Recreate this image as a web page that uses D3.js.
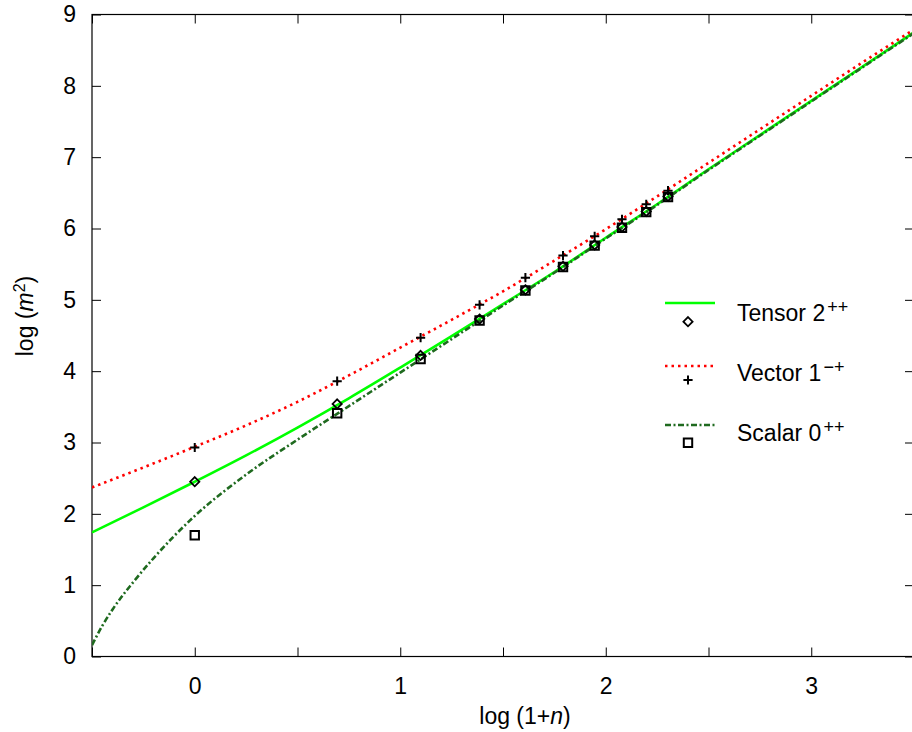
<!DOCTYPE html>
<html>
<head>
<meta charset="utf-8">
<script src="https://cdn.jsdelivr.net/npm/d3@7"></script>
<style>
	body { margin: 0; background: #fff; }
	text { font-family: "Liberation Sans", Arial, Helvetica, sans-serif; }
</style>
</head>
<body>
<div id="graph"></div>
<script>
// lattice points, x = log(1+n)
var pointX = [0, 0.693, 1.099, 1.386, 1.609, 1.792, 1.946, 2.079, 2.197, 2.303];
var tensorPts = [2.45, 3.54, 4.22, 4.73, 5.14, 5.47, 5.77, 6.02, 6.24, 6.45];
var vectorPts = [2.93, 3.86, 4.47, 4.93, 5.31, 5.62, 5.89, 6.13, 6.34, 6.53];
var scalarPts = [1.70, 3.41, 4.17, 4.71, 5.13, 5.46, 5.76, 6.01, 6.23, 6.44];

// fit curves
var curveX = [-0.5, -0.25, 0, 0.25, 0.5, 0.75, 1, 1.25, 1.5, 1.75, 2, 2.25, 2.5, 2.75, 3, 3.25, 3.5];
var tensorFit = [1.74, 2.09, 2.45, 2.82, 3.21, 3.62, 4.05, 4.49, 4.94, 5.39, 5.87, 6.34, 6.83, 7.31, 7.79, 8.27, 8.75];
var vectorFit = [2.37, 2.65, 2.94, 3.24, 3.57, 3.94, 4.33, 4.72, 5.12, 5.55, 5.99, 6.45, 6.92, 7.39, 7.86, 8.33, 8.79];
var scalarX = [-0.5, -0.45, -0.4, -0.3, -0.2, -0.1, 0, 0.25, 0.5, 0.75, 1, 1.25, 1.5, 1.75, 2, 2.25, 2.5, 2.75, 3, 3.25, 3.5];
var scalarFit = [0.16, 0.43, 0.66, 1.04, 1.38, 1.69, 1.97, 2.55, 3.04, 3.51, 3.98, 4.45, 4.92, 5.38, 5.86, 6.33, 6.82, 7.30, 7.78, 8.26, 8.74];

var xTicks = [-0.5, 0, 0.5, 1, 1.5, 2, 2.5, 3, 3.5];
var yTicks = [0, 1, 2, 3, 4, 5, 6, 7, 8, 9];

var legendNames = ["Tensor 2", "Vector 1", "Scalar 0"];
var legendSup = ["++", "\u2212+", "++"];

var W = 912, H = 732;
var pLeft = 92, pRight = 914, pTop = 14.5, pBottom = 656.5;

var x = d3.scaleLinear().domain([-0.5, 3.5]).range([pLeft, pRight]);
var y = d3.scaleLinear().domain([0, 9]).range([pBottom, pTop]);

var vis = d3.select("#graph")
	.append("svg")
	.attr("width", W)
	.attr("height", H);

vis.append("defs").append("clipPath").attr("id", "plotclip")
	.append("rect")
	.attr("x", pLeft).attr("y", pTop)
	.attr("width", pRight - pLeft).attr("height", pBottom - pTop);

function styleAxis(g) {
	g.select(".domain").remove();
	g.selectAll("line").attr("stroke", "#000").attr("stroke-width", 1);
	g.selectAll("text").attr("font-size", "23px").attr("fill", "#000")
		.attr("font-family", "'Liberation Sans', Arial, sans-serif");
}

var fmtX = function (d) { return Number.isInteger(d) && d >= 0 ? d : ""; };

vis.append("g")
	.attr("transform", "translate(0," + pBottom + ")")
	.call(d3.axisBottom(x).tickValues(xTicks).tickSizeInner(-9).tickSizeOuter(0).tickPadding(21).tickFormat(fmtX))
	.call(styleAxis);

vis.append("g")
	.attr("transform", "translate(0," + pTop + ")")
	.call(d3.axisTop(x).tickValues(xTicks).tickSizeInner(-9).tickSizeOuter(0).tickFormat(""))
	.call(styleAxis);

vis.append("g")
	.attr("transform", "translate(" + pLeft + ",0)")
	.call(d3.axisLeft(y).tickValues(yTicks).tickSizeInner(-9).tickSizeOuter(0).tickPadding(16).tickFormat(d3.format("d")))
	.call(styleAxis);

vis.append("g")
	.attr("transform", "translate(" + pRight + ",0)")
	.call(d3.axisRight(y).tickValues(yTicks).tickSizeInner(-9).tickSizeOuter(0).tickFormat(""))
	.call(styleAxis);

// frame
vis.append("rect")
	.attr("x", pLeft).attr("y", pTop)
	.attr("width", pRight - pLeft).attr("height", pBottom - pTop)
	.attr("fill", "none")
	.attr("stroke", "#000")
	.attr("stroke-width", 1.2);

// axis titles
var xl = vis.append("text")
	.attr("x", 525).attr("y", 724)
	.attr("text-anchor", "middle")
	.attr("font-size", "23px");
xl.append("tspan").text("log (1+");
xl.append("tspan").attr("font-style", "italic").text("n");
xl.append("tspan").text(")");

var yl = vis.append("text")
	.attr("transform", "translate(33,316) rotate(-90)")
	.attr("text-anchor", "middle")
	.attr("font-size", "23px");
yl.append("tspan").text("log (");
yl.append("tspan").attr("font-style", "italic").text("m");
yl.append("tspan").attr("font-size", "16px").attr("dy", -8).text("2");
yl.append("tspan").attr("dy", 8).text(")");

// curves
var styles = [
	{ color: "#00ff00", dash: null, width: 2.6 },
	{ color: "#ff0000", dash: "2.5,4", width: 2.6 },
	{ color: "#1f6a1f", dash: "6,2.5,2,2.5", width: 2.6 }
];

function lineFor(xs, ys) {
	var pts = xs.map(function (d, i) { return [d, ys[i]]; });
	return d3.line()
		.x(function (d) { return x(d[0]); })
		.y(function (d) { return y(d[1]); })
		.curve(d3.curveMonotoneX)(pts);
}

var plot = vis.append("g").attr("clip-path", "url(#plotclip)");

var fits = [[curveX, tensorFit], [curveX, vectorFit], [scalarX, scalarFit]];
fits.forEach(function (f, i) {
	plot.append("path")
		.attr("d", lineFor(f[0], f[1]))
		.attr("fill", "none")
		.attr("stroke", styles[i].color)
		.attr("stroke-width", styles[i].width)
		.attr("stroke-dasharray", styles[i].dash);
});

// point symbols
var diamond = "M0,-4.6L4.6,0L0,4.6L-4.6,0Z";
var plus = "M-4.6,0H4.6M0,-4.6V4.6";
var square = "M-4.2,-4.2H4.2V4.2H-4.2Z";
var symbols = [diamond, plus, square];
var symW = [1.8, 2, 2];

function drawPoints(vals, k) {
	plot.selectAll(".pt" + k)
		.data(vals)
		.enter()
		.append("path")
		.attr("class", "pt" + k)
		.attr("transform", function (d, i) { return "translate(" + x(pointX[i]) + "," + y(d) + ")"; })
		.attr("d", symbols[k])
		.attr("fill", "none")
		.attr("stroke", "#000")
		.attr("stroke-width", symW[k]);
}
drawPoints(tensorPts, 0);
drawPoints(vectorPts, 1);
drawPoints(scalarPts, 2);

// legend
var legLineY = [303, 366, 425];
var legSymY = [321.7, 380, 442.7];
var legTextY = [320.7, 380.7, 440.7];

legendNames.forEach(function (name, i) {
	vis.append("line")
		.attr("x1", 665).attr("x2", 715)
		.attr("y1", legLineY[i]).attr("y2", legLineY[i])
		.attr("stroke", styles[i].color)
		.attr("stroke-width", styles[i].width)
		.attr("stroke-dasharray", styles[i].dash);
	vis.append("path")
		.attr("transform", "translate(688," + legSymY[i] + ")")
		.attr("d", symbols[i])
		.attr("fill", "none")
		.attr("stroke", "#000")
		.attr("stroke-width", symW[i]);
	var t = vis.append("text")
		.attr("x", 737).attr("y", legTextY[i])
		.attr("font-size", "23px");
	t.append("tspan").text(name);
	t.append("tspan").attr("font-size", "18px").attr("dx", 2).attr("dy", -8).text(legendSup[i]);
});
</script>
</body>
</html>
